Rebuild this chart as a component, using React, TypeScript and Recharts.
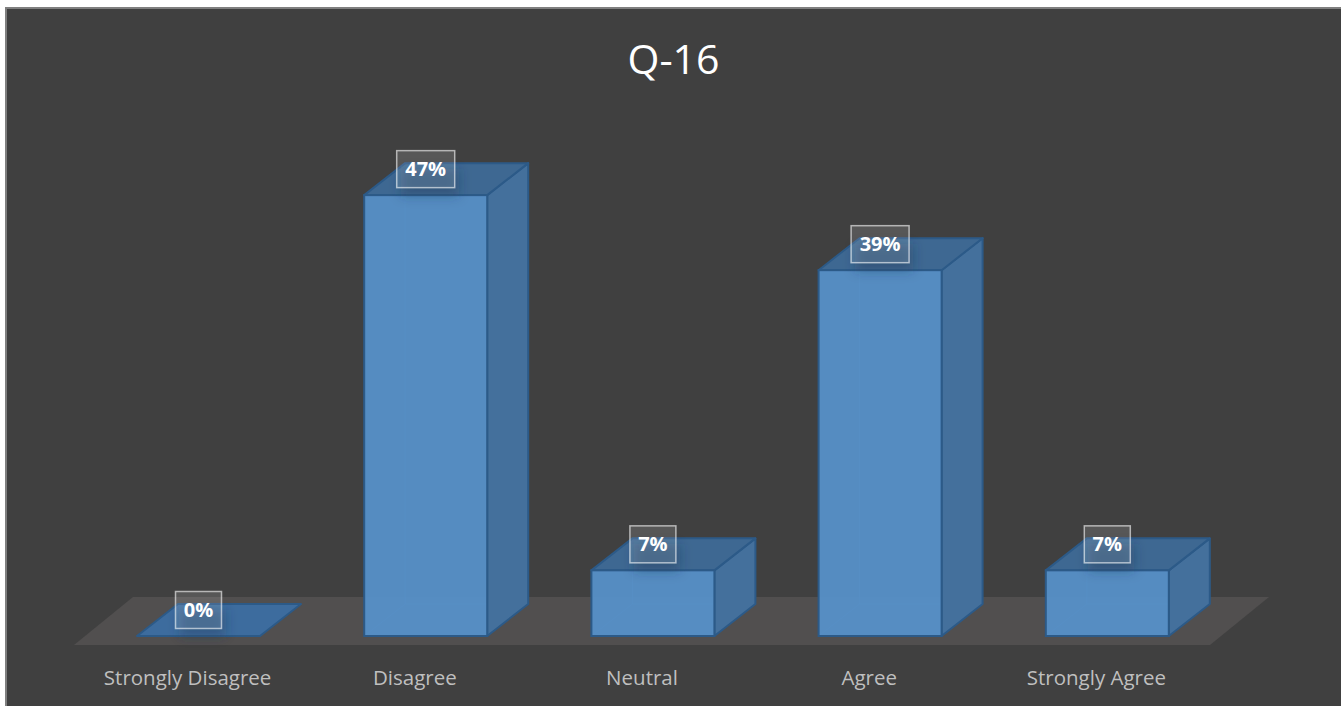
import React from "react";
import { Bar, BarChart, LabelList, ReferenceArea, XAxis, YAxis } from "recharts";

const categories: string[] = ["Strongly Disagree", "Disagree", "Neutral", "Agree", "Strongly Agree"];
const shares: number[] = [0, 47, 7, 39, 7];

const data = categories.map((category, i) => ({ category, share: shares[i] }));

// depth of the 3d boxes
const DX = 41;
const DY = 32;
const SHIFT = -11;

const Box3D = (props: any) => {
    const { x, y, width, height } = props;
    const w = width;
    const h = Math.max(0, height);
    const top = `${x},${y} ${x + w},${y} ${x + w + DX},${y - DY} ${x + DX},${y - DY}`;
    const side = `${x + w},${y} ${x + w + DX},${y - DY} ${x + w + DX},${y + h - DY} ${x + w},${y + h}`;
    return (
        <g>
            {h > 0 && (
                <g stroke="#5a8fc4" strokeOpacity={0.45} strokeWidth={1}>
                    <line x1={x + DX} y1={y - DY} x2={x + DX} y2={y + h - DY} />
                    <line x1={x} y1={y + h} x2={x + DX} y2={y + h - DY} />
                    <line x1={x + DX} y1={y + h - DY} x2={x + w + DX} y2={y + h - DY} />
                </g>
            )}
            {h > 0 && <polygon points={side} fill="#44709c" stroke="#2c5a88" strokeWidth={2} strokeLinejoin="round" />}
            <polygon points={top} fill={h > 0 ? "#3e6892" : "#3d6c9e"} stroke="#2c5a88" strokeWidth={2} strokeLinejoin="round" />
            {h > 0 && (
                <rect x={x} y={y} width={w} height={h} fill="#5690c8" fillOpacity={0.95} stroke="#2c5a88" strokeWidth={2} />
            )}
        </g>
    );
};

const Floor = (props: any) => {
    const { x, y, width, height } = props;
    const base = y + height;
    const fl = x + SHIFT;
    const fr = x + width + SHIFT;
    const front = base + 9;
    const back = base - 39;
    const pts = `${fl},${front} ${fr},${front} ${fr + 59},${back} ${fl + 59},${back}`;
    return <polygon points={pts} fill="#514f4f" />;
};

const ValueTag = (props: any) => {
    const { x, y, width, value } = props;
    const text = `${value}%`;
    const cx = x + width / 2;
    const cy = y - 26;
    const bw = 22 + 12 * text.length;
    const bh = 37;
    return (
        <g>
            <rect x={cx - bw / 2 + 4} y={cy} width={bw} height={bh / 2 + 8} fill="#1f3550" fillOpacity={0.35} filter="url(#tagShadow)" />
            <rect x={cx - bw / 2} y={cy - bh / 2} width={bw} height={bh} fill="#ffffff" fillOpacity={0.12} stroke="#ffffff" strokeOpacity={0.6} strokeWidth={1.5} />
            <text x={cx} y={cy + 7} textAnchor="middle" fill="#ffffff" fontSize={20} fontWeight={700} fontFamily="'Open Sans', sans-serif">
                {text}
            </text>
        </g>
    );
};

const CategoryTick = (props: any) => {
    const { x, payload } = props;
    return (
        <text x={x + SHIFT} y={685} textAnchor="middle" fill="#bfbfbf" fontSize={20.5} fontFamily="'Open Sans', sans-serif">
            {payload.value}
        </text>
    );
};

export default function App() {
    return (
        <div style={{ position: "absolute", left: 0, top: 0, width: 1341, height: 706, background: "#ffffff" }}>
            <div
                style={{
                    position: "absolute",
                    left: 5,
                    top: 7,
                    width: 1336,
                    height: 699,
                    background: "#404040",
                    borderLeft: "2px solid #7f7f7f",
                    borderTop: "2px solid #7f7f7f",
                    boxSizing: "border-box",
                }}
            />
            <div
                style={{
                    position: "absolute",
                    left: 0,
                    top: 30,
                    width: 1347,
                    textAlign: "center",
                    color: "#ffffff",
                    fontSize: 41,
                    fontFamily: "'Open Sans', sans-serif",
                    lineHeight: "56px",
                }}
            >
                Q-16
            </div>
            <div style={{ position: "absolute", left: 0, top: 0 }}>
                <BarChart width={1341} height={706} data={data} margin={{ top: 167, right: 120, bottom: 30, left: 85 }}>
                    <defs>
                        <filter id="tagShadow" x="-50%" y="-50%" width="200%" height="200%">
                            <feGaussianBlur stdDeviation="6" />
                        </filter>
                    </defs>
                    <XAxis dataKey="category" axisLine={false} tickLine={false} height={40} tick={<CategoryTick />} interval={0} />
                    <YAxis hide domain={[0, 50]} />
                    <ReferenceArea x1="Strongly Disagree" x2="Strongly Agree" y1={0} y2={1} shape={<Floor />} ifOverflow="visible" />
                    <Bar dataKey="share" barSize={123} shape={<Box3D />} isAnimationActive={false}>
                        <LabelList dataKey="share" content={<ValueTag />} />
                    </Bar>
                </BarChart>
            </div>
        </div>
    );
}
